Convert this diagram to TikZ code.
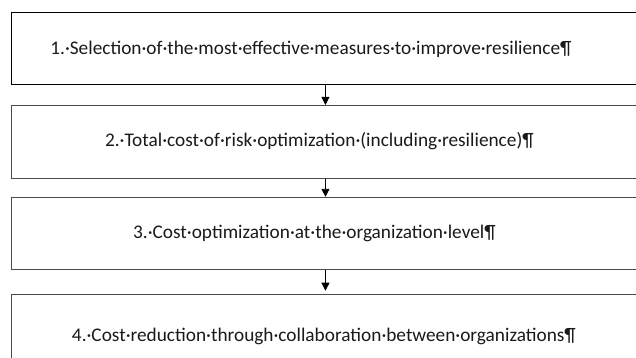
\documentclass[tikz,border=0pt]{standalone}
\usepackage{fontspec}
\setmainfont{Carlito}
\usepackage{tikz}
\usetikzlibrary{arrows.meta,positioning}
\definecolor{BoxLine}{HTML}{4A4A4A}
\definecolor{StepText}{HTML}{1A1A1A}
\tikzset{
  % Step box
  SB/.style={rectangle,draw=BoxLine,line width=0.9pt,
             minimum width=628pt,minimum height=72pt,inner sep=0pt},
  % Step text
  ST/.style={inner sep=0pt,text=StepText,
             font=\fontsize{19.3}{22}\selectfont},
  % Arrow
  arr/.style={-{Triangle[length=8pt,width=8pt]},line width=0.9pt}
}

\begin{document}
\begin{tikzpicture}[x=1pt,y=-1pt]
  \clip (0,0) rectangle (636,358);
  \node[SB,draw=black,anchor=north west] (s1) at (11,12) {};
  \node[SB,minimum height=73pt,below=20pt of s1] (s2) {};
  \node[SB,below=18pt of s2] (s3) {};
  \node[SB,minimum height=84pt,below=24pt of s3] (s4) {};

  \node[ST] (t1) at ([xshift=-14.5pt,yshift=-1pt]s1.center) {1.·Selection·of·the·most·effective·measures·to·improve·resilience¶};
  \node[ST] (t2) at ([xshift=-6pt,yshift=1pt]s2.center) {2.·Total·cost·of·risk·optimization·(including·resilience)¶};
  \node[ST] (t3) at ([xshift=-11pt]s3.center) {3.·Cost·optimization·at·the·organization·level¶};
  \node[ST] (t4) at ([xshift=-1.5pt]s4.center) {4.·Cost·reduction·through·collaboration·between·organizations¶};

  \draw[arr](s1)--(s2);
  \draw[arr](s2)--(s3);
  \draw[arr,shorten >=3pt](s3)--(s4);
\end{tikzpicture}
\end{document}
